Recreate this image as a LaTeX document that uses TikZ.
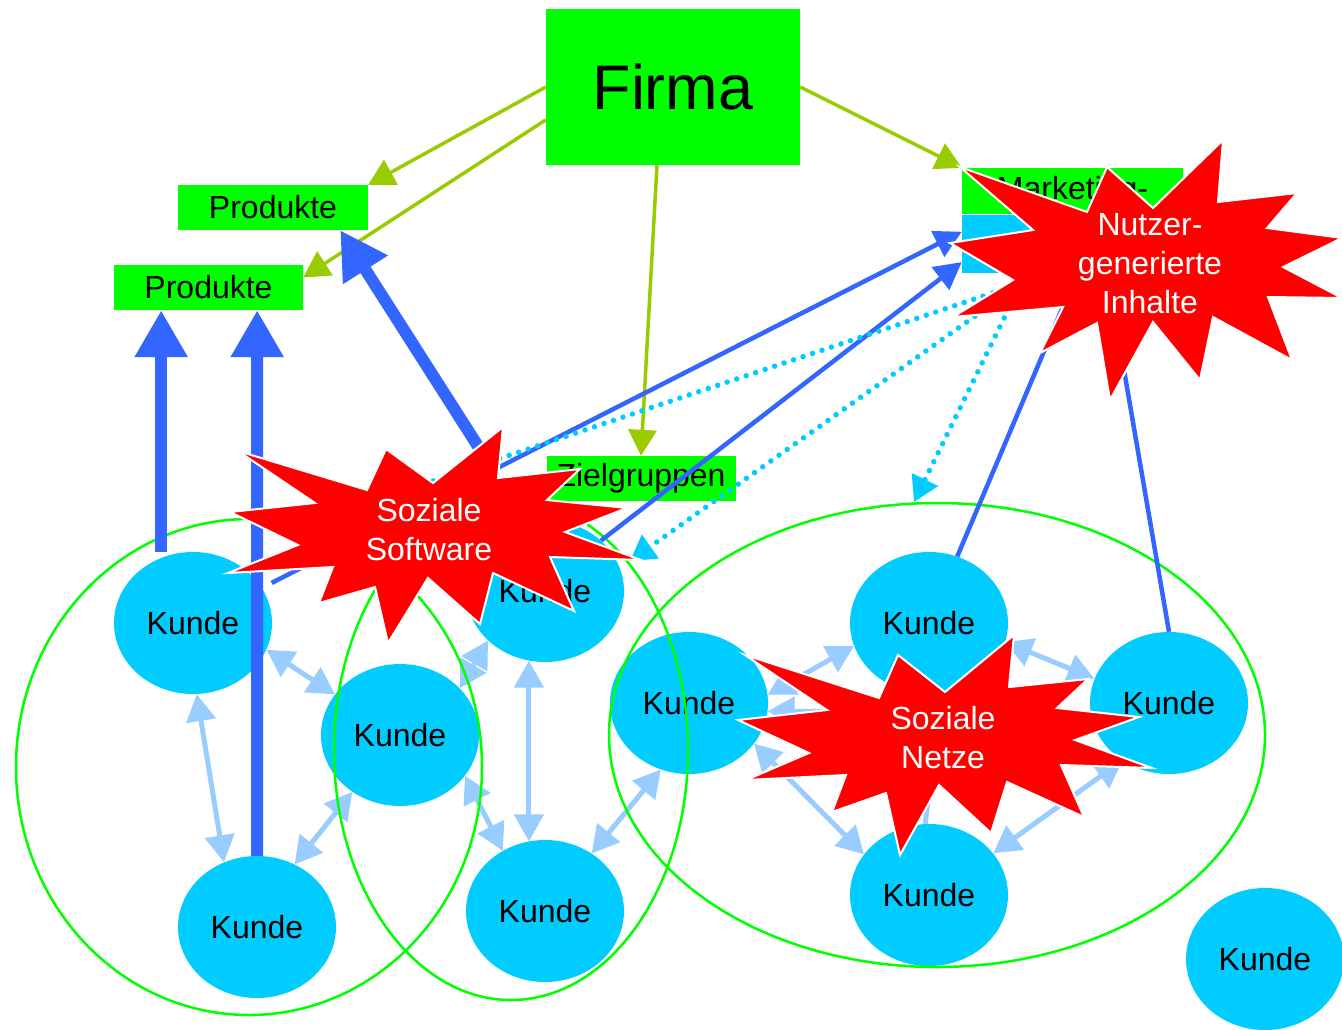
\documentclass[tikz,border=0pt]{standalone}
\usepackage{fontspec}
\setmainfont{Liberation Sans}
\usetikzlibrary{arrows.meta,shapes.geometric,calc}
\pgfdeclarelayer{under}
\pgfsetlayers{under,main}
\definecolor{kgreen}{HTML}{00FF00}
\definecolor{kcyan}{HTML}{00CCFF}
\definecolor{kblue}{HTML}{3366FF}
\definecolor{klight}{HTML}{99CCFF}
\definecolor{kolive}{HTML}{99CC00}
\definecolor{kred}{HTML}{FF0000}
\begin{document}
\begin{tikzpicture}[x=1pt,y=-1pt,
  kunde/.style={ellipse, fill=kcyan, minimum width=158pt, minimum height=142pt, inner sep=0pt, font=\fontsize{32}{38}\selectfont},
  box/.style={rectangle, fill=kgreen, inner sep=0pt, font=\fontsize{32}{38}\selectfont},
  group/.style={draw=kgreen, line width=2.5pt},
  link/.style={draw=klight, line width=5pt, {Triangle[length=27pt,width=29pt]}-{Triangle[length=27pt,width=29pt]}},
  heavy/.style={draw=kblue, line width=12pt, -{Triangle[length=47pt,width=50pt]}},
  thinlink/.style={draw=kblue, line width=4.5pt, -{Triangle[length=27pt,width=28pt]}},
  plainlink/.style={draw=kblue, line width=4.5pt},
  feed/.style={draw=kolive, line width=3.5pt, -{Triangle[length=26pt,width=28pt]}},
  dots/.style={draw=kcyan, line width=5.5pt, line cap=round, dash pattern=on 0pt off 10pt},
  burst/.style={fill=kred, draw=white, line width=2pt, line join=miter},
  burstlabel/.style={text=white, align=center, inner sep=0pt, font=\fontsize{32}{39}\selectfont}]
\begin{pgfonlayer}{under}
\fill[white] (0,0) rectangle (1342,1029);
\end{pgfonlayer}
\useasboundingbox (0,0) rectangle (1342,1029);

% boxes
\node[box, minimum width=254pt, minimum height=156pt, font=\fontsize{63}{70}\selectfont] (firma) at (673,87) {Firma};
\node[box, minimum width=190pt, minimum height=45pt] (prod1) at (273,207.5) {Produkte};
\node[box, minimum width=189pt, minimum height=45pt] (prod2) at (208.5,287.5) {Produkte};
\node[box, minimum width=189pt, minimum height=45pt] (ziel) at (641,478.5) {Zielgruppen};
\node[box, minimum width=221pt, minimum height=46pt] (mk1) at (1072.5,191) {Marketing-};
\node[box, fill=kcyan, minimum width=221pt, minimum height=58pt] (mk2) at (1072.5,244) {};

% customers
\node[kunde] (k1) at (193,623) {Kunde};
\node[kunde] (k2) at (400,735) {Kunde};
\node[kunde] (k3) at (257,927) {Kunde};
\node[kunde] (k4) at (545,591) {Kunde};
\node[kunde] (k5) at (545,911) {Kunde};
\node[kunde] (k6) at (689,703) {Kunde};
\node[kunde] (k7) at (929,623) {Kunde};
\node[kunde] (k8) at (1169,703) {Kunde};
\node[kunde] (k9) at (929,895) {Kunde};
\node[kunde] (k10) at (1265,959) {Kunde};

% hidden end points (under the bursts) and arrow targets
\coordinate (nc) at (900,712);
\coordinate (sthick) at (490,465);
\coordinate (nz1) at (1070,290);
\coordinate (nz2) at (1118,335);
\coordinate (d1a) at (1040,277);
\coordinate (d1b) at (433,481);
\coordinate (d2a) at (1040,270);
\coordinate (d2b) at (630,561);
\coordinate (d3a) at (1013,300);
\coordinate (d3b) at (914,502);
\coordinate (p2a) at ($(prod2.south west)!0.25!(prod2.south east)$);
\coordinate (p2b) at ($(prod2.south west)!0.757!(prod2.south east)$);

% links between customers
\begin{pgfonlayer}{under}
\draw[link] (k1.-87) -- (k3.117);
\draw[link] (k1.-20) -- (k2.148);
\draw[link] (k2.-130) -- (k3.59);
\draw[link] (k2.38) -- (k4.-139);
\draw[link] (k4.-103) -- (k5.103);
\draw[link] (k2.-32) -- (k5.125);
\draw[link] (k5.51) -- (k6.-113);
\draw[link] (k6.6) -- (k7.-163);
\draw[link] (k6.-6) -- (nc);
\draw[link] (k6.-32) -- (k9.148);
\draw[link] (k7.-14) -- (k8.162);
\draw[link] (k8.-129) -- (k9.33);
\draw[draw=klight, line width=5pt] (k7.-81) -- (k9.93);
\end{pgfonlayer}

% groups
\draw[group] (249,767) ellipse [x radius=233, y radius=248];
\draw[group] (511,750) ellipse [x radius=177, y radius=250];
\draw[group] (937,735) ellipse [x radius=328, y radius=232];

% company arrows
\draw[feed] (firma.west) -- (prod1.north east);
\draw[feed] ($(firma.north west)!0.71!(firma.south west)$) -- ($(prod2.north east)!0.28!(prod2.south east)$);
\draw[feed] ($(firma.south west)!0.437!(firma.south east)$) -- (ziel.north);
\draw[feed] (firma.east) -- (mk1.north west);

% customer feedback
\draw[heavy] (p2a |- k1.north) -- (p2a);
\draw[heavy] (k3.north) -- (p2b);
\draw[heavy] (sthick) -- ($(prod1.south west)!0.853!(prod1.south east)$);
\draw[thinlink, shorten <=11pt] (k1.27) -- ($(mk2.north west)!0.29!(mk2.south west)$);
\draw[thinlink] (k4.42) -- ($(mk2.north west)!0.81!(mk2.south west)$);
\draw[plainlink] (k7.67) -- (nz1);
\draw[plainlink] (k8.90) -- (nz2);

% dotted content flows
\draw[dots] (d1a) -- (d1b);
\draw[dots, -{Triangle[length=25pt,width=28pt]}] (d2a) -- (d2b);
\draw[dots, -{Triangle[length=25pt,width=28pt]}] (d3a) -- (d3b);

% bursts
\draw[burst] (960,167) -- (1087,212) -- (1107,167) -- (1153,208) -- (1223,140) -- (1218,202) -- (1297,193) -- (1267,228) -- (1342,238) -- (1283,267) -- (1342,298) -- (1268,297) -- (1292,360) -- (1213,317) -- (1200,380) -- (1153,322) -- (1110,400) -- (1097,323) -- (1040,353) -- (1063,307) -- (953,317) -- (1013,280) -- (950,243) -- (1033,230) -- cycle;
\draw[burst] (238,451) -- (367,490) -- (386,449) -- (433,483) -- (503,427) -- (498,478) -- (580,469) -- (547,500) -- (627,508) -- (565,532) -- (641,560) -- (550,557) -- (574,611) -- (493,573) -- (480,624) -- (428,578) -- (388,643) -- (375,587) -- (319,603) -- (333,567) -- (228,573) -- (298,545) -- (230,512) -- (315,503) -- cycle;
\draw[burst] (745,655) -- (879,698) -- (898,655) -- (945,692) -- (1014,635) -- (1009,687) -- (1088,679) -- (1057,708) -- (1139,717) -- (1075,740) -- (1152,768) -- (1061,765) -- (1084,817) -- (1007,782) -- (991,833) -- (939,785) -- (900,855) -- (886,793) -- (832,812) -- (846,775) -- (746,780) -- (809,753) -- (738,720) -- (827,710) -- cycle;

\node[burstlabel] (nutzer) at (1150,264) {Nutzer-\\generierte\\Inhalte};
\node[burstlabel] (software) at (429,530) {Soziale\\Software};
\node[burstlabel] (netze) at (943,738) {Soziale\\Netze};
\end{tikzpicture}
\end{document}
